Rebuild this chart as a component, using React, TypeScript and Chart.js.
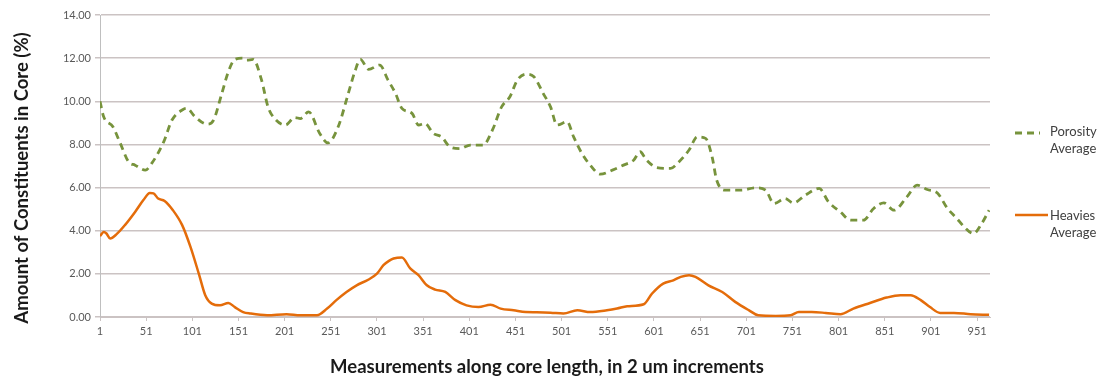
import React, { useEffect, useRef } from "react";
import { Chart, registerables } from "chart.js";

Chart.register(...registerables);

// Measurement index (x) and running average (%) for each series
const porosityAverage: [number, number][] = [
  [1, 10.0], [5, 9.28], [15, 8.82], [23, 8.05], [32, 7.19], [39, 7.04], [50, 6.81], [57, 7.12],
  [70, 8.12], [79, 9.13], [91, 9.62], [95, 9.67], [104, 9.28], [117, 8.94], [124, 9.13],
  [133, 10.37], [140, 11.37], [147, 11.94], [156, 12.0], [160, 11.91], [167, 11.94],
  [176, 10.98], [183, 9.74], [191, 9.16], [202, 8.9], [212, 9.25], [218, 9.2], [227, 9.51],
  [239, 8.51], [248, 8.07], [259, 8.82], [270, 10.37], [277, 11.37], [283, 11.94], [292, 11.48],
  [304, 11.68], [313, 10.98], [321, 10.37], [328, 9.67], [339, 9.44], [346, 8.9], [353, 8.97],
  [362, 8.51], [371, 8.35], [380, 7.89], [391, 7.81], [402, 7.97], [416, 7.97], [426, 8.66],
  [436, 9.74], [445, 10.21], [453, 10.98], [463, 11.26], [471, 11.14], [481, 10.37], [489, 9.74],
  [496, 8.9], [507, 9.05], [514, 8.35], [523, 7.58], [532, 7.04], [543, 6.62], [556, 6.81],
  [568, 7.04], [579, 7.27], [586, 7.66], [593, 7.27], [604, 6.93], [619, 6.89], [628, 7.19],
  [639, 7.74], [648, 8.35], [657, 8.28], [664, 7.42], [669, 6.34], [678, 5.88], [696, 5.88],
  [711, 5.99], [722, 5.88], [731, 5.26], [743, 5.49], [752, 5.29], [765, 5.65], [780, 5.96],
  [790, 5.34], [803, 4.87], [814, 4.49], [828, 4.49], [839, 5.03], [850, 5.29], [861, 4.95],
  [875, 5.57], [886, 6.11], [897, 5.91], [908, 5.75], [919, 5.03], [929, 4.57], [937, 4.18],
  [947, 3.87], [956, 4.33], [964, 4.95],
];

const heaviesAverage: [number, number][] = [
  [1, 3.75], [5, 3.94], [8, 3.87], [12, 3.64], [19, 3.84], [28, 4.26], [39, 4.87], [48, 5.42],
  [55, 5.75], [59, 5.73], [64, 5.49], [71, 5.38], [80, 4.95], [90, 4.26], [99, 3.25],
  [108, 2.01], [115, 1.01], [122, 0.62], [131, 0.54], [140, 0.65], [147, 0.46], [156, 0.23],
  [164, 0.16], [182, 0.08], [203, 0.13], [218, 0.08], [236, 0.08], [247, 0.39], [257, 0.78],
  [268, 1.16], [279, 1.47], [292, 1.74], [301, 2.01], [308, 2.4], [314, 2.6], [319, 2.71],
  [328, 2.76], [337, 2.25], [346, 1.94], [355, 1.47], [364, 1.27], [375, 1.16], [386, 0.78],
  [398, 0.54], [411, 0.46], [424, 0.57], [435, 0.39], [449, 0.31], [462, 0.23], [474, 0.22],
  [489, 0.2], [503, 0.16], [518, 0.31], [532, 0.23], [550, 0.31], [561, 0.39], [572, 0.5],
  [590, 0.59], [599, 1.09], [611, 1.55], [622, 1.7], [630, 1.86], [639, 1.94], [646, 1.86],
  [660, 1.47], [675, 1.16], [689, 0.7], [704, 0.31], [714, 0.08], [733, 0.05], [749, 0.08],
  [758, 0.23], [772, 0.23], [787, 0.19], [803, 0.13], [817, 0.39], [835, 0.65], [853, 0.9],
  [868, 1.01], [879, 1.01], [890, 0.78], [900, 0.46], [911, 0.19], [926, 0.19], [944, 0.13],
  [964, 0.1],
];

const xTickValues = [1, 51, 101, 151, 201, 251, 301, 351, 401, 451, 501, 551, 601, 651, 701, 751, 801, 851, 901, 951];
const xMin = 1;
const xMax = 965;
const yMin = 0;
const yMax = 14;
const yStep = 2;

const seriesLabels = ["Porosity Average", "Heavies Average"];
const yTitle = "Amount of Constituents in Core (%)";
const xTitle = "Measurements along core length, in 2 um increments";

const GREEN = "#77933C";
const ORANGE = "#E46C0A";
const GRID = "#CBC3C3";
const TICK_TEXT = "#595959";

// Two-line legend at the right and the axis titles
const decorations = {
  id: "decorations",
  afterDraw(chart: Chart) {
    const { ctx, chartArea } = chart;
    ctx.save();

    // Y axis title
    ctx.fillStyle = "#1a1a1a";
    ctx.font = "bold 18.5px Lato, 'Open Sans', sans-serif";
    ctx.textAlign = "center";
    ctx.textBaseline = "middle";
    ctx.save();
    ctx.translate(22, 178);
    ctx.rotate(-Math.PI / 2);
    ctx.fillText(yTitle, 0, 0);
    ctx.restore();

    // X axis title
    ctx.fillText(xTitle, (chartArea.left + chartArea.right) / 2 + 2, 367);

    // Legend
    ctx.font = "13px Lato, 'Open Sans', sans-serif";
    ctx.fillStyle = "#404040";
    ctx.textAlign = "left";

    ctx.strokeStyle = GREEN;
    ctx.lineWidth = 2.8;
    ctx.setLineDash([7, 5]);
    ctx.beginPath();
    ctx.moveTo(1015, 133);
    ctx.lineTo(1040, 133);
    ctx.stroke();
    const [p1, p2] = seriesLabels[0].split(" ");
    ctx.fillText(p1, 1050, 131.5);
    ctx.fillText(p2, 1050, 149);

    ctx.strokeStyle = ORANGE;
    ctx.lineWidth = 2.5;
    ctx.setLineDash([]);
    ctx.beginPath();
    ctx.moveTo(1015, 215);
    ctx.lineTo(1048, 215);
    ctx.stroke();
    const [h1, h2] = seriesLabels[1].split(" ");
    ctx.fillText(h1, 1050, 216);
    ctx.fillText(h2, 1050, 232.5);

    ctx.restore();
  },
};

export default function App() {
  const canvasRef = useRef<HTMLCanvasElement | null>(null);

  useEffect(() => {
    const canvas = canvasRef.current;
    if (!canvas) return;
    const chart = new Chart(canvas, {
      type: "line",
      data: {
        datasets: [
          {
            label: seriesLabels[0],
            data: porosityAverage.map(([x, y]) => ({ x, y })),
            borderColor: GREEN,
            borderWidth: 2.8,
            borderDash: [7, 5],
            pointRadius: 0,
            tension: 0.4,
            cubicInterpolationMode: "monotone",
            fill: false,
          },
          {
            label: seriesLabels[1],
            data: heaviesAverage.map(([x, y]) => ({ x, y })),
            borderColor: ORANGE,
            borderWidth: 2.5,
            pointRadius: 0,
            tension: 0.4,
            cubicInterpolationMode: "monotone",
            fill: false,
          },
        ],
      },
      options: {
        responsive: false,
        animation: false,
        events: [],
        layout: { padding: { left: 0, right: 113, top: 15, bottom: 0 } },
        plugins: {
          legend: { display: false },
          tooltip: { enabled: false },
        },
        scales: {
          x: {
            type: "linear",
            min: xMin,
            max: xMax,
            afterBuildTicks: (scale: any) => {
              scale.ticks = xTickValues.map((v) => ({ value: v }));
            },
            afterFit: (scale: any) => {
              scale.height = 61;
            },
            ticks: {
              autoSkip: false,
              maxRotation: 0,
              minRotation: 0,
              color: TICK_TEXT,
              padding: 4,
              font: { family: "Lato, 'Open Sans', sans-serif", size: 11 },
              callback: (v: any) => String(v),
            },
            grid: {
              display: true,
              drawOnChartArea: false,
              drawTicks: true,
              tickLength: 4,
              color: GRID,
            },
            border: { display: true, color: GRID, width: 1 },
          },
          y: {
            min: yMin,
            max: yMax,
            afterFit: (scale: any) => {
              scale.width = 100;
            },
            ticks: {
              stepSize: yStep,
              color: TICK_TEXT,
              padding: 4,
              font: { family: "Lato, 'Open Sans', sans-serif", size: 11 },
              callback: (v: any) => Number(v).toFixed(2),
            },
            grid: {
              color: GRID,
              lineWidth: 1.5,
              drawTicks: true,
              tickLength: 5,
            },
            border: { display: true, color: "#BFBFBF", width: 1 },
          },
        },
      },
      plugins: [decorations],
    });
    return () => chart.destroy();
  }, []);

  return (
    <div style={{ position: "absolute", left: 0, top: 0, width: 1103, height: 378, background: "#fff" }}>
      <canvas ref={canvasRef} width={1103} height={378} />
    </div>
  );
}
